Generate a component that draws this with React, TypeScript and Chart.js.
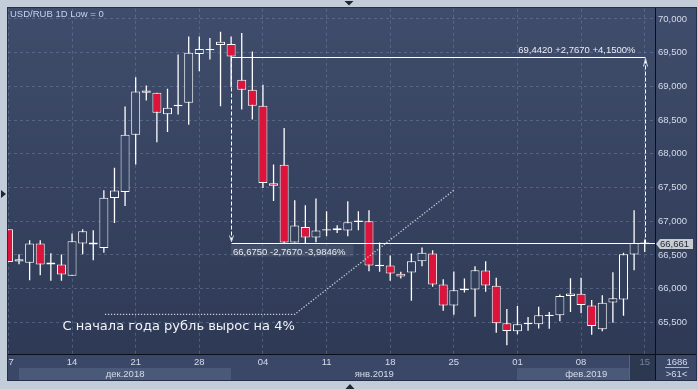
import { useEffect, useRef } from 'react';
import { Chart, registerables } from 'chart.js';

Chart.register(...registerables);

// ---- Data (USD/RUB daily candles, index 0 = 07 Dec 2018, 6 bars per week) ----
const opens = [
  66.881, 66.403, 66.383, 66.670, 66.359, 66.359, 66.190, 66.670, 66.684, 66.604,
  67.345, 67.433, 68.283, 68.905, 68.905, 68.588, 68.706, 68.757, 69.482, 69.535,
  69.615, 69.630, 69.097, 68.949, 68.712, 67.562, 67.839, 66.684, 66.915, 66.758,
  66.862, 66.867, 66.862, 66.990, 67.000, 66.334, 66.344, 66.220, 66.240, 66.408,
  66.522, 66.063, 65.752, 65.978, 65.989, 66.270, 66.042, 65.486, 65.367, 65.471,
  65.471, 65.594, 65.604, 65.890, 65.924, 65.752, 65.397, 65.796, 65.841, 66.507,
  66.684,
];
const highs = [
  66.881, 66.511, 66.719, 66.719, 66.526, 66.507, 66.818, 66.881, 66.866, 67.459,
  67.795, 68.702, 69.136, 69.013, 68.905, 68.964, 69.472, 69.738, 69.738, 69.719,
  69.812, 69.738, 69.793, 69.516, 69.023, 67.843, 68.381, 67.311, 67.237, 67.336,
  67.148, 66.941, 67.296, 67.148, 67.163, 66.684, 66.492, 66.249, 66.522, 66.610,
  66.570, 66.141, 66.255, 66.152, 66.334, 66.408, 66.160, 65.697, 65.742, 65.579,
  65.731, 65.653, 65.915, 66.156, 66.160, 65.830, 65.904, 66.245, 66.531, 67.163,
  66.729,
];
const lows = [
  66.397, 66.363, 66.126, 66.200, 66.116, 66.116, 66.190, 66.511, 66.422, 66.531,
  66.975, 67.226, 67.843, 68.791, 68.173, 68.322, 68.583, 68.431, 69.224, 69.398,
  68.706, 68.988, 68.657, 68.509, 67.493, 67.300, 66.675, 66.684, 66.670, 66.689,
  66.778, 66.827, 66.778, 66.867, 66.260, 66.249, 66.116, 66.152, 65.820, 66.334,
  66.027, 65.672, 65.613, 65.944, 65.583, 65.953, 65.346, 65.160, 65.323, 65.376,
  65.411, 65.406, 65.515, 65.653, 65.634, 65.317, 65.367, 65.494, 65.598, 66.274,
  66.545,
];
const closes = [
  66.397, 66.437, 66.670, 66.359, 66.388, 66.211, 66.704, 66.852, 66.655, 67.350,
  67.454, 68.283, 68.924, 68.939, 68.609, 68.683, 68.727, 69.497, 69.556, 69.556,
  69.660, 69.442, 68.949, 68.712, 67.567, 67.528, 66.684, 66.936, 66.758, 66.862,
  66.881, 66.896, 66.985, 67.010, 66.344, 66.353, 66.226, 66.181, 66.408, 66.531,
  66.063, 65.752, 65.978, 66.004, 66.274, 66.048, 65.486, 65.372, 65.471, 65.490,
  65.604, 65.613, 65.890, 65.930, 65.756, 65.446, 65.790, 65.856, 66.511, 66.679,
  66.661,
];

const dayTickIndex = [0, 6, 12, 18, 24, 30, 36, 42, 48, 54, 60];
const dayLabels = ['07', '14', '21', '28', '04', '11', '18', '25', '01', '08', '15'];
const priceTicks = [65.5, 66, 66.5, 67, 67.5, 68, 68.5, 69, 69.5, 70];

const monthLabels = ['дек.2018', 'янв.2019', 'фев.2019'];
const monthStarts = [1, 21, 48];
const monthEnds = [21, 48, 61];
const monthShaded = [true, false, true];

// measure-tool annotation
const measureFrom = 21;
const measureTo = 60;
const measureHigh = 69.442;
const measureLow = 66.675;
const highText = '69,4420 +2,7670 +4,1500%';
const lowText = '66,6750 -2,7670 -3,9846%';
const lastPrice = 66.661;
const lastPriceText = '66,661';

// dotted trend line + caption
const trendX = [9.1, 27.0, 42.0];
const trendY = [65.62, 65.62, 67.46];
const captionText = 'С начала года рубль вырос на 4%';
const captionX = 5.1;
const captionY = 65.43;

const headerText = 'USD/RUB 1D Low = 0';
const barsTotalText = '1686';
const barsVisibleText = '>61<';
const highlightFrom = 58.6;

const W = 698;
const H = 389;
const FONT = "'Liberation Sans', Arial, sans-serif";
const GRID = 'rgba(120,138,170,0.45)';
const FRAME = '#c3cdda';
const RED = '#dc143c';

const fmt3 = (v: number) => v.toFixed(3).replace('.', ',');

function plotGradient(ctx: CanvasRenderingContext2D) {
  const g = ctx.createLinearGradient(0, 8, 0, 354);
  g.addColorStop(0, '#3f4c6b');
  g.addColorStop(1, '#2e3a55');
  return g;
}

export default function App() {
  const ref = useRef<HTMLCanvasElement>(null);

  useEffect(() => {
    document.body.style.margin = '0';
    const canvas = ref.current!;
    const idx = opens.map((_, i) => i);

    const decor = {
      id: 'decor',
      beforeDraw(chart: any) {
        const ctx: CanvasRenderingContext2D = chart.ctx;
        const xs = chart.scales.x;
        const ca = chart.chartArea;
        ctx.save();
        ctx.fillStyle = FRAME;
        ctx.fillRect(0, 0, W, H);
        ctx.fillStyle = plotGradient(ctx);
        ctx.fillRect(7, 7, 690, 374);
        ctx.fillStyle = '#3a4766';
        ctx.fillRect(8, ca.bottom, 689, 381 - ca.bottom);
        ctx.fillStyle = '#4a5977';
        monthLabels.forEach((_, i) => {
          if (!monthShaded[i]) return;
          const a = Math.max(ca.left, xs.getPixelForValue(monthStarts[i]));
          const b = Math.min(ca.right, xs.getPixelForValue(monthEnds[i]));
          ctx.fillRect(Math.round(a), 368, Math.round(b) - Math.round(a), 13);
        });
        const hx = Math.round(xs.getPixelForValue(highlightFrom));
        ctx.fillStyle = '#2c3750';
        ctx.fillRect(hx, ca.bottom, ca.right - hx, 381 - ca.bottom);
        ctx.fillStyle = '#56647f';
        ctx.fillRect(hx - 1, ca.bottom, 1, 381 - ca.bottom);
        ctx.restore();
      },
      afterDraw(chart: any) {
        const ctx: CanvasRenderingContext2D = chart.ctx;
        const xs = chart.scales.x;
        const ys = chart.scales.y;
        const ca = chart.chartArea;
        const px = (v: number) => xs.getPixelForValue(v);
        const py = (v: number) => ys.getPixelForValue(v);

        ctx.save();
        ctx.beginPath();
        ctx.rect(ca.left, ca.top, ca.right - ca.left, ca.bottom - ca.top);
        ctx.clip();

        ctx.strokeStyle = 'rgba(214,219,228,0.9)';
        ctx.lineWidth = 1.3;
        ctx.setLineDash([1.3, 1.7]);
        ctx.beginPath();
        trendX.forEach((v, i) => {
          const X = px(v);
          const Y = py(trendY[i]);
          if (i === 0) ctx.moveTo(X, Y);
          else ctx.lineTo(X, Y);
        });
        ctx.stroke();

        const xA = Math.round(px(measureFrom)) + 0.5;
        const xB = Math.round(px(measureTo)) + 0.5;
        const yHi = Math.round(py(measureHigh)) + 0.5;
        const yLo = Math.round(py(measureLow)) + 0.5;
        ctx.setLineDash([]);
        ctx.strokeStyle = '#ffffff';
        ctx.lineWidth = 1;
        ctx.beginPath();
        ctx.moveTo(xA, yHi);
        ctx.lineTo(xB, yHi);
        ctx.stroke();
        ctx.beginPath();
        ctx.moveTo(xA, yLo);
        ctx.lineTo(ca.right, yLo);
        ctx.stroke();
        ctx.setLineDash([4, 2]);
        ctx.beginPath();
        ctx.moveTo(xA, yHi);
        ctx.lineTo(xA, yLo - 1);
        ctx.stroke();
        ctx.beginPath();
        ctx.moveTo(xB, yLo);
        ctx.lineTo(xB, yHi + 1);
        ctx.stroke();
        ctx.setLineDash([]);
        ctx.strokeStyle = '#d8dce4';
        ctx.beginPath();
        ctx.moveTo(xA - 2, yLo - 8);
        ctx.lineTo(xA, yLo - 2);
        ctx.lineTo(xA + 2, yLo - 8);
        ctx.stroke();
        ctx.beginPath();
        ctx.moveTo(xB - 2, yHi + 9);
        ctx.lineTo(xB, yHi + 1);
        ctx.lineTo(xB + 2, yHi + 9);
        ctx.stroke();

        ctx.font = `9.5px ${FONT}`;
        ctx.textBaseline = 'middle';
        const lw = ctx.measureText(lowText).width;
        ctx.fillStyle = 'rgba(255,255,255,0.08)';
        ctx.fillRect(xA - 0.5, yLo + 1, lw + 10, 12);
        ctx.fillStyle = '#e8ecf4';
        ctx.textAlign = 'left';
        ctx.fillText(lowText, xA + 1.5, yLo + 9);
        ctx.textAlign = 'right';
        ctx.fillText(highText, xB - 10, yHi - 7.5);

        ctx.font = "13px 'DejaVu Sans', sans-serif";
        ctx.textAlign = 'left';
        ctx.fillStyle = '#f2f4f8';
        ctx.fillText(captionText, px(captionX), py(captionY));

        ctx.font = `9.5px ${FONT}`;
        ctx.fillStyle = '#c6d2ea';
        ctx.fillText(headerText, 10, 14.7);
        ctx.restore();

        ctx.save();
        const yp = py(lastPrice);
        ctx.fillStyle = '#c8ccd3';
        ctx.beginPath();
        ctx.moveTo(ca.right + 1, yp);
        ctx.lineTo(ca.right + 5, yp - 5);
        ctx.lineTo(ca.right + 38, yp - 5);
        ctx.lineTo(ca.right + 38, yp + 5);
        ctx.lineTo(ca.right + 5, yp + 5);
        ctx.closePath();
        ctx.fill();
        ctx.font = `9.5px ${FONT}`;
        ctx.fillStyle = '#1e2536';
        ctx.textAlign = 'left';
        ctx.textBaseline = 'middle';
        ctx.fillText(lastPriceText, ca.right + 5, yp + 0.5);

        ctx.save();
        ctx.beginPath();
        ctx.rect(ca.left, 367, ca.right - ca.left, 14);
        ctx.clip();
        ctx.fillStyle = '#d4dcec';
        ctx.textAlign = 'center';
        monthLabels.forEach((m, i) => {
          const a = Math.max(ca.left, px(monthStarts[i]));
          const b = Math.min(ca.right, px(monthEnds[i]));
          ctx.fillText(m, (a + b) / 2, 374);
        });
        ctx.restore();

        ctx.fillStyle = '#d4dcec';
        ctx.textAlign = 'center';
        ctx.fillText(barsTotalText, 677, 362);
        ctx.fillText(barsVisibleText, 676.5, 374.5);
        ctx.fillStyle = '#aab4c8';
        ctx.fillRect(665, 367, 24, 1);

        ctx.fillStyle = '#0b0f19';
        ctx.fillRect(ca.right, 8, 1, 373);
        ctx.fillRect(8, ca.bottom, 689, 1);

        ctx.fillStyle = FRAME;
        ctx.fillRect(0, 0, 7, H);
        ctx.fillRect(0, 0, W, 7);
        ctx.fillRect(0, 381, W, H - 381);
        ctx.fillRect(697, 0, W - 697, H);
        ctx.strokeStyle = '#26304a';
        ctx.lineWidth = 1;
        ctx.strokeRect(7.5, 7.5, 689, 373);

        ctx.fillStyle = '#1d2536';
        ctx.beginPath();
        ctx.moveTo(1, 190);
        ctx.lineTo(6, 194);
        ctx.lineTo(1, 198);
        ctx.closePath();
        ctx.fill();
        ctx.beginPath();
        ctx.moveTo(344.5, 1);
        ctx.lineTo(353.5, 1);
        ctx.lineTo(349, 5.5);
        ctx.closePath();
        ctx.fill();
        ctx.beginPath();
        ctx.moveTo(345.5, 389);
        ctx.lineTo(354.5, 389);
        ctx.lineTo(350, 384);
        ctx.closePath();
        ctx.fill();
        ctx.restore();
      },
    };

    const chart = new Chart(canvas, {
      type: 'bar',
      data: {
        datasets: [
          {
            label: 'body',
            data: idx.map((i) => ({ x: i, y: [opens[i], closes[i]] })) as any,
            order: 1,
            grouped: false,
            barThickness: 9,
            borderWidth: 1,
            borderColor: '#ffffff',
            borderSkipped: false,
            inflateAmount: 0,
            clip: 0,
            backgroundColor: (c: any) => {
              const i = c.dataIndex;
              if (closes[i] < opens[i]) return RED;
              return c.chart.chartArea ? plotGradient(c.chart.ctx) : '#38445f';
            },
          } as any,
          {
            label: 'wick',
            data: idx.map((i) => ({ x: i, y: [lows[i], highs[i]] })) as any,
            order: 2,
            grouped: false,
            barThickness: 1.3,
            borderWidth: 0,
            inflateAmount: 0,
            clip: 0,
            backgroundColor: '#ffffff',
          } as any,
        ],
      },
      options: {
        animation: false,
        responsive: false,
        events: [],
        layout: { padding: { left: 8, top: 8, right: 1, bottom: 9 } },
        plugins: { legend: { display: false }, tooltip: { enabled: false } },
        scales: {
          x: {
            type: 'linear',
            min: -0.04,
            max: 60.97,
            offset: false,
            afterFit: (s: any) => {
              s.height = 26;
            },
            afterBuildTicks: (s: any) => {
              s.ticks = dayTickIndex.map((v) => ({ value: v }));
            },
            grid: { color: GRID, lineWidth: 1, drawTicks: false, offset: false },
            border: { display: false, dash: [3, 3] },
            ticks: {
              autoSkip: false,
              maxRotation: 0,
              minRotation: 0,
              padding: 3,
              font: { family: FONT, size: 9.5 },
              color: (c: any) => (c.index === dayLabels.length - 1 ? '#76839e' : '#d4dcec'),
              callback: (v: any) => dayLabels[dayTickIndex.indexOf(Math.round(Number(v)))] ?? '',
            },
          },
          y: {
            type: 'linear',
            position: 'right',
            min: 65.031,
            max: 70.152,
            beginAtZero: false,
            afterFit: (s: any) => {
              s.width = 42;
            },
            afterBuildTicks: (s: any) => {
              s.ticks = priceTicks.map((v) => ({ value: v }));
            },
            grid: { color: GRID, lineWidth: 1, drawTicks: false },
            border: { display: false, dash: [3, 3] },
            ticks: {
              padding: 3,
              font: { family: FONT, size: 9.5 },
              color: '#d4dcec',
              callback: (v: any) => fmt3(Number(v)),
            },
          },
        },
      } as any,
      plugins: [decor],
    });
    return () => chart.destroy();
  }, []);

  return (
    <div style={{ position: 'fixed', left: 0, top: 0, width: W, height: H }}>
      <canvas ref={ref} width={W} height={H} style={{ display: 'block', width: W, height: H }} />
    </div>
  );
}
